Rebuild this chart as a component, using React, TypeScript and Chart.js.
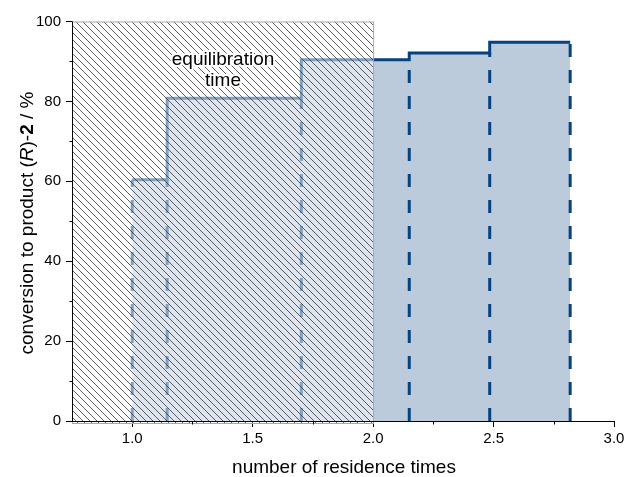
import React, { useEffect, useRef } from 'react';
import { Chart, registerables } from 'chart.js';

Chart.register(...registerables);

// ---- data ----
const stepStarts = [1.0, 1.145, 1.702, 2.15, 2.484];
const stepEnd = 2.818;
const conversion = [60.4, 80.8, 90.4, 92.1, 94.8];
const xTicks = [1.0, 1.5, 2.0, 2.5, 3.0];
const yTicks = [0, 20, 40, 60, 80, 100];
const xMinorTicks = [1.25, 1.75, 2.25, 2.75];
const yMinorTicks = [10, 30, 50, 70, 90];
const equilibrationRange = [0.75, 2.0];
const annotationLines = ['equilibration', 'time'];
const xTitle = 'number of residence times';
const yTitleParts = [
  { t: 'conversion to product (', s: '' },
  { t: 'R', s: 'italic ' },
  { t: ')-', s: '' },
  { t: '2', s: 'bold ' },
  { t: ' / %', s: '' },
];

const FAMILY = "'Liberation Sans', Arial, Helvetica, sans-serif";
const DARK = '#05427f';
const FILL = '#bccbdc';

const overlayPlugin = {
  id: 'overlay',
  afterDatasetsDraw(chart: any) {
    const { ctx, scales } = chart;
    const x = scales.x;
    const y = scales.y;
    const x0 = x.getPixelForValue(equilibrationRange[0]);
    const x1 = x.getPixelForValue(equilibrationRange[1]);
    const yTop = y.getPixelForValue(100);
    const yBot = y.getPixelForValue(0) + 3;
    const h = yBot - yTop;
    ctx.save();
    ctx.fillStyle = 'rgba(255,255,255,0.5)';
    ctx.fillRect(x0, yTop, x1 - x0, h);
    ctx.beginPath();
    ctx.rect(x0, yTop, x1 - x0, h);
    ctx.clip();
    ctx.strokeStyle = '#383838';
    ctx.lineWidth = 0.8;
    ctx.beginPath();
    for (let s = x0 - h; s < x1 + 2; s += 7) {
      ctx.moveTo(s, yTop);
      ctx.lineTo(s + h, yBot);
    }
    ctx.stroke();
    ctx.restore();

    ctx.save();
    ctx.strokeStyle = '#a8a8a8';
    ctx.lineWidth = 1;
    ctx.strokeRect(x0 + 0.5, yTop + 0.5, x1 - x0, h - 1);
    ctx.restore();

    // axes lines redrawn on top
    const ca = chart.chartArea;
    ctx.save();
    ctx.strokeStyle = '#000';
    ctx.lineWidth = 1;
    ctx.beginPath();
    ctx.moveTo(Math.round(ca.left) + 0.5, ca.top);
    ctx.lineTo(Math.round(ca.left) + 0.5, Math.round(ca.bottom) + 1);
    ctx.moveTo(ca.left, Math.round(ca.bottom) + 0.5);
    ctx.lineTo(ca.right + 0.5, Math.round(ca.bottom) + 0.5);
    ctx.stroke();
    ctx.restore();

    // annotation
    ctx.save();
    ctx.font = `19px ${FAMILY}`;
    ctx.textAlign = 'center';
    ctx.textBaseline = 'alphabetic';
    const ax = x.getPixelForValue(1.377);
    const ay = y.getPixelForValue(89.1);
    annotationLines.forEach((line, i) => {
      ctx.strokeStyle = '#fff';
      ctx.lineWidth = 4;
      ctx.lineJoin = 'round';
      ctx.strokeText(line, ax, ay + i * 21);
      ctx.fillStyle = '#000';
      ctx.fillText(line, ax, ay + i * 21);
    });
    ctx.restore();
  },
  afterDraw(chart: any) {
    const { ctx, scales, chartArea: ca } = chart;
    const x = scales.x;
    const y = scales.y;
    ctx.save();
    ctx.strokeStyle = '#000';
    ctx.lineWidth = 1;
    ctx.beginPath();
    const bottom = Math.round(ca.bottom) + 0.5;
    xMinorTicks.forEach((v) => {
      const px = Math.round(x.getPixelForValue(v)) + 0.5;
      ctx.moveTo(px, bottom);
      ctx.lineTo(px, bottom + 3);
    });
    const left = Math.round(ca.left) + 0.5;
    yMinorTicks.forEach((v) => {
      const py = Math.round(y.getPixelForValue(v)) + 0.5;
      ctx.moveTo(left, py);
      ctx.lineTo(left - 3, py);
    });
    ctx.stroke();

    // x title
    ctx.fillStyle = '#000';
    ctx.font = `19px ${FAMILY}`;
    ctx.textAlign = 'center';
    ctx.textBaseline = 'alphabetic';
    ctx.fillText(xTitle, 344, 473);

    // y title
    ctx.translate(33, 223);
    ctx.rotate(-Math.PI / 2);
    ctx.textAlign = 'left';
    let total = 0;
    yTitleParts.forEach((p) => {
      ctx.font = `${p.s}19px ${FAMILY}`;
      total += ctx.measureText(p.t).width;
    });
    let cx = -total / 2;
    yTitleParts.forEach((p) => {
      ctx.font = `${p.s}19px ${FAMILY}`;
      ctx.fillText(p.t, cx, 0);
      cx += ctx.measureText(p.t).width;
    });
    ctx.restore();
  },
};

export default function App() {
  const ref = useRef<HTMLCanvasElement | null>(null);

  useEffect(() => {
    if (!ref.current) return;
    const stepPoints = stepStarts.map((sx, i) => ({ x: sx, y: conversion[i] }));
    stepPoints.push({ x: stepEnd, y: conversion[conversion.length - 1] });

    const edges = [...stepStarts.slice(1), stepEnd];
    const dashedSets = [
      { x: stepStarts[0], top: conversion[0] },
      ...edges.map((ex, i) => ({ x: ex, top: conversion[i] })),
    ].map((d) => ({
      type: 'line' as const,
      data: [
        { x: d.x, y: 0 },
        { x: d.x, y: d.top },
      ],
      borderColor: DARK,
      borderWidth: 3,
      borderDash: [13, 13],
      pointRadius: 0,
      fill: false,
      order: 0,
    }));

    const chart = new Chart(ref.current, {
      type: 'line',
      data: {
        datasets: [
          ...dashedSets,
          {
            data: stepPoints,
            stepped: 'before',
            borderColor: DARK,
            borderWidth: 3,
            backgroundColor: FILL,
            fill: 'origin',
            pointRadius: 0,
            order: 1,
          } as any,
        ],
      },
      options: {
        animation: false,
        responsive: false,
        devicePixelRatio: 1,
        layout: { padding: { top: 21.5, right: 14, left: 0, bottom: 0 } },
        plugins: {
          legend: { display: false },
          tooltip: { enabled: false },
        },
        scales: {
          x: {
            type: 'linear',
            min: 0.75,
            max: 3.0,
            afterBuildTicks: (s: any) => {
              s.ticks = xTicks.map((v) => ({ value: v }));
            },
            afterFit: (s: any) => {
              s.height = 56;
            },
            ticks: {
              callback: (v: any) => Number(v).toFixed(1),
              font: { size: 15, family: FAMILY },
              color: '#000',
              padding: 3,
              maxRotation: 0,
              autoSkip: false,
            },
            grid: {
              drawOnChartArea: false,
              drawTicks: true,
              tickLength: 6,
              tickColor: '#000',
              tickWidth: 1,
            },
            border: { color: '#000', width: 1 },
          },
          y: {
            type: 'linear',
            min: 0,
            max: 100,
            afterBuildTicks: (s: any) => {
              s.ticks = yTicks.map((v) => ({ value: v }));
            },
            afterFit: (s: any) => {
              s.width = 72;
            },
            ticks: {
              callback: (v: any) => String(v),
              font: { size: 15, family: FAMILY },
              color: '#000',
              padding: 5,
              autoSkip: false,
            },
            grid: {
              drawOnChartArea: false,
              drawTicks: true,
              tickLength: 6,
              tickColor: '#000',
              tickWidth: 1,
            },
            border: { color: '#000', width: 1 },
          },
        },
      },
      plugins: [overlayPlugin],
    });
    return () => chart.destroy();
  }, []);

  return (
    <div style={{ position: 'absolute', left: 0, top: 0, width: 628, height: 477, background: '#fff' }}>
      <canvas ref={ref} width={628} height={477} style={{ width: 628, height: 477, display: 'block' }} />
    </div>
  );
}
